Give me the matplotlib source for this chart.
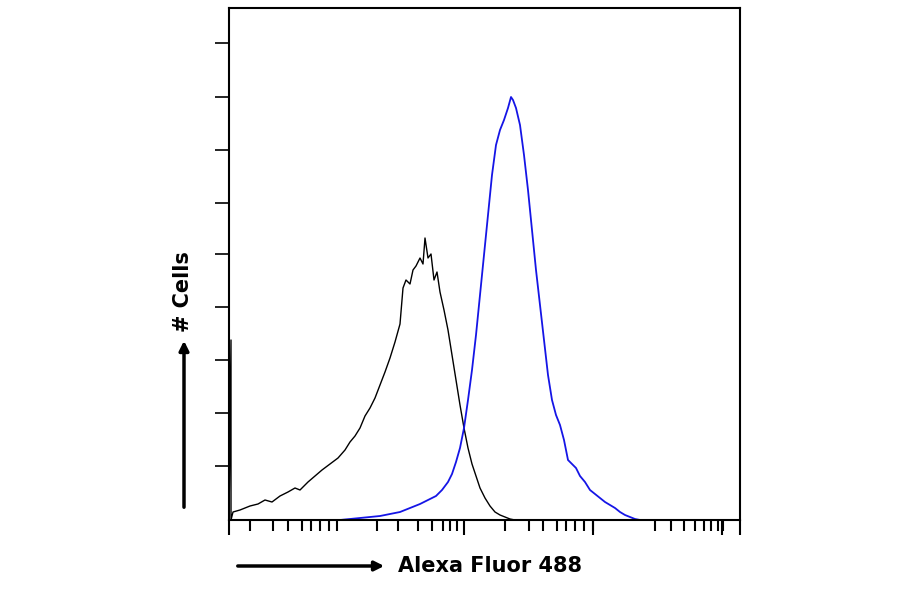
import matplotlib
matplotlib.use("Agg")
import matplotlib.pyplot as plt

# Histogram data (channel position, counts)
black_x = [229,231,231,233,240,250,258,265,272,280,288,295,300,308,315,322,330,338,345,350,355,360,365,370,375,380,385,390,395,400,403,406,410,413,416,420,423,425,428,431,434,437,440,444,448,452,456,460,464,468,472,476,480,485,490,495,500,505,510,515]
black_y = [0,180,0,8,10,14,16,20,18,24,28,32,30,38,44,50,56,62,70,78,84,92,104,112,122,135,148,162,178,196,232,240,236,250,254,262,256,282,262,266,240,248,228,210,190,165,140,115,92,72,56,44,32,22,14,8,5,3,1,0]
blue_x = [340,350,360,370,380,390,400,410,420,428,436,442,448,452,456,460,464,468,472,476,480,484,488,492,496,500,504,508,511,513,516,520,524,528,532,536,540,544,548,552,556,560,564,568,572,576,580,585,590,595,600,605,610,615,620,625,630,635,640]
blue_y = [0,1,2,3,4,6,8,12,16,20,24,30,38,46,58,72,92,120,150,185,225,265,305,345,375,390,400,412,423,420,412,395,365,330,290,250,215,180,145,120,105,95,80,60,56,52,44,38,30,26,22,18,15,12,8,5,3,1,0]

xmaj = [229, 464, 593, 722, 740]
xmin_z = [140,205,245,285,310,335,360,383,495,555,610,650,680,700,720,855,920,960,1000,1025,1050,1075,1100,1275,1320,1355,1385,1410,1430,1450,1465]
ytick_counts = [54,107,160,213,266,317,370,423,477]

fig = plt.figure(figsize=(9,5.94), dpi=100)
ax = fig.add_axes([229/900, 1-520/594, (740-229)/900, (520-8)/594])
ax.plot(black_x, black_y, color='black', lw=1.0)
ax.plot(blue_x, blue_y, color='#1515e6', lw=1.3)
ax.set_xlim(229, 740)
ax.set_ylim(0, 512)
for s in ax.spines.values():
    s.set_linewidth(1.5)
ax.set_xticks([200+z/2.8 for z in xmin_z], minor=True)
ax.set_xticks(xmaj)
ax.set_xticklabels([])
ax.set_yticks(ytick_counts)
ax.set_yticklabels([])
ax.tick_params(axis='x', which='major', length=11, width=1.5, direction='out')
ax.tick_params(axis='x', which='minor', length=8, width=1.5, direction='out')
ax.tick_params(axis='y', length=10, width=1.2, direction='out')

def fx(p): return p/900
def fy(p): return 1-p/594
fig.add_artist(matplotlib.patches.FancyArrowPatch((fx(235), fy(566)), (fx(387), fy(566)),
    transform=fig.transFigure, arrowstyle='-|>', mutation_scale=14, lw=2.5, color='black'))
fig.add_artist(matplotlib.patches.FancyArrowPatch((fx(184), fy(510)), (fx(184), fy(338)),
    transform=fig.transFigure, arrowstyle='-|>', mutation_scale=14, lw=2.5, color='black'))
fig.text(fx(398), fy(566), "Alexa Fluor 488", fontsize=15, fontweight='bold', va='center', ha='left')
fig.text(fx(183), fy(292), "# Cells", fontsize=15, fontweight='bold', va='center', ha='center', rotation=90)
fig.savefig("out.png", dpi=100)
